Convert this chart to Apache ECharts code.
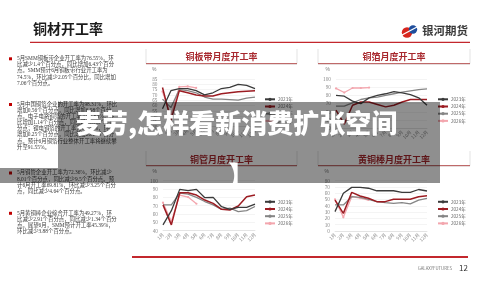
<!DOCTYPE html>
<html><head><meta charset="utf-8">
<script src="https://cdn.jsdelivr.net/npm/echarts@6/dist/echarts.min.js"></script>
<style>html,body{margin:0;padding:0;background:#fff}#c{width:500px;height:286px}</style>
</head><body><div id="c"></div>
<script>
// ---- data ----
const months = ['1月','2月','3月','4月','5月','6月','7月','8月','9月','10月','11月','12月'];
const years = ['2023年','2024年','2025年','2026年'];
// 铜板带
const strip2023 = [57, 74, 76, 76, 74, 70, 72, 76, 77, 80, 79, 76];
const strip2024 = [77, 46, 74, 72, 70, 69, 69, 71, 72, 73, 73.5, 74];
const strip2025 = [66, 58, 75, 74, 72, 68, 66, 66, 65.5, 65, 67, 68];
const strip2026 = [73, 50, 77.5, 77.95, 76.55];
// 铜箔
const foil2023 = [80, 79, 73, 70, 77, 80, 82, 84.5, 83, 81, 77, 68];
const foil2024 = [62, 45, 68, 72, 72, 69, 66, 68, 72, 75, 75, 75];
const foil2025 = [67, 67, 71, 75, 77, 78, 80, 82, 84, 85.5, 87, 88];
const foil2026 = [88.5, 83.5, 89, 89, 89.5];
// 铜管
const tube2023 = [47, 64, 89.6, 88, 89.6, 79.6, 80, 68.8, 65.6, 68, 68, 72];
const tube2024 = [71, 47, 85.6, 85.6, 82.8, 76.8, 72.8, 65.6, 64.8, 69.6, 80.8, 82.8];
const tube2025 = [71, 71, 85, 84, 80, 75, 71, 65.6, 67, 63, 64, 69];
const tube2026 = [73.6, 51, 82.8, 80.37, 72.36];
// 黄铜棒
const rod2023 = [30.8, 60, 69.4, 69.4, 68, 64, 64, 64, 61.5, 61.5, 66, 63.6];
const rod2024 = [49, 28, 61.5, 55.7, 52, 46.7, 46.7, 50.4, 50.4, 50.4, 54.6, 56];
const rod2025 = [41.4, 41.4, 54.6, 53.5, 50.4, 46.7, 45, 44, 45, 43, 49, 52];
const rod2026 = [50.4, 21.8, 54.6, 52.18, 49.27];
// axis ranges [min, max, interval]
const stripAxis = [40, 85, 5];
const foilAxis = [40, 100, 10];
const tubeAxis = [40, 100, 10];
const rodAxis = [0, 80, 10];
// titles / text
const pageTitle = '铜材开工率';
const logoText = '银河期货';
const panelTitles = ['铜板带月度开工率','铜箔月度开工率','铜管月度开工率','黄铜棒月度开工率'];
const bullets = [
 ['5月SMM铜板带企业开工率为76.55%，环','比减少1.4个百分点，同比增加6.43个百分','点。SMM预计6月铜板带行业开工率为','74.5%，环比减少2.05个百分比，同比增加','7.06个百分点。'],
 ['5月中国铜箔企业的开工率为98.31%，环比','增加0.56个百分点，同比增加6.98个百分','点。电子电路铜箔的开工率为97.63%，环','比增加1.14个百分点，同比增加3.65个百','分点；锂电铜箔的开工率为99.26%，环比','增加0.25个百分点，同比增加20.29个百分','点。预计6月铜箔行业整体开工率将继续攀','升至91.55%。'],
 ['5月铜管企业开工率为72.36%，环比减少','8.01个百分点，同比减少9.5个百分点。预','计6月开工率69.81%，环比减少3.25个百分','点，同比减少4.64个百分点。'],
 ['5月黄铜棒企业综合开工率为49.27%，环','比减少2.91个百分点，同比减少1.34个百分','点。展望6月，SMM预计开工率45.39%，','环比减少3.88个百分点。']
];
const overlayTitle = '麦劳,怎样看新消费扩张空间';
const overlayBracket = '】';
const footerText = 'GALAXYFUTURES';
const pageNo = '12';

// ---- build ----
const CJK = '"Noto Sans CJK SC", sans-serif';
const colors = ['#3b3b3b', '#9c1c22', '#858585', '#f3a6ae'];
const panels = [
  {data:[strip2023,strip2024,strip2025,strip2026], axis:stripAxis, grid:{left:162.5, top:79, width:92.5, height:47.7}, legend:{left:264, top:97}},
  {data:[foil2023,foil2024,foil2025,foil2026], axis:foilAxis, grid:{left:336, top:79, width:91, height:49.2}, legend:{left:437, top:97}},
  {data:[tube2023,tube2024,tube2025,tube2026], axis:tubeAxis, grid:{left:163, top:180.7, width:92, height:50}, legend:{left:264, top:199.5}},
  {data:[rod2023,rod2024,rod2025,rod2026], axis:rodAxis, grid:{left:335, top:180.7, width:92, height:50.3}, legend:{left:437, top:199.5}}
];

const grid=[], xAxis=[], yAxis=[], series=[], legend=[];
panels.forEach((p, gi) => {
  grid.push(Object.assign({containLabel:false}, p.grid));
  xAxis.push({type:'category', gridIndex:gi, data:months, boundaryGap:false,
    axisLine:{lineStyle:{color:'#d9d9d9', width:0.6}}, axisTick:{show:false},
    axisLabel:{interval:0, rotate:45, fontSize:4.6, color:'#8a8a8a', margin:3, fontFamily:CJK}});
  yAxis.push({type:'value', gridIndex:gi, min:p.axis[0], max:p.axis[1], interval:p.axis[2],
    name:'%', nameGap:7, nameTextStyle:{fontSize:5, color:'#777', align:'right', padding:[0,6,0,0]},
    axisLine:{show:false}, axisTick:{show:false},
    axisLabel:{fontSize:4.8, color:'#8a8a8a', margin:5, fontFamily:CJK},
    splitLine:{lineStyle:{color:'#ececec', width:0.6}}});
  p.data.forEach((arr, si) => {
    const isNew = si === 3;
    series.push({type:'line', name:years[si], xAxisIndex:gi, yAxisIndex:gi, data:arr,
      symbol: isNew ? 'circle' : 'none', symbolSize:2.2, showSymbol:isNew,
      lineStyle:{color:colors[si], width: si===1 ? 1.5 : 1.3},
      itemStyle:{color:colors[si]}, z: 10 - si});
  });
  legend.push({data:years, orient:'vertical', left:p.legend.left, top:p.legend.top, padding:0,
    itemWidth:10, itemHeight:4, itemGap:2.6, selectedMode:false,
    textStyle:{fontSize:4.6, color:'#666', fontFamily:CJK, padding:[0,0,0,-2]}});
});

const g = [];
// page title and rule
g.push({type:'text', x:33, y:28.5, style:{text:pageTitle, fill:'#1c1c1c', fontSize:14, fontWeight:'bold', fontFamily:CJK, textVerticalAlign:'middle'}});
g.push({type:'line', shape:{x1:30, y1:42.3, x2:470, y2:42.3}, style:{stroke:'#c3272d', lineWidth:1.2}});
// logo
g.push({type:'circle', shape:{cx:407, cy:32.5, r:5.2}, style:{fill:'#d7261e'}});
g.push({type:'circle', shape:{cx:413, cy:29.5, r:4.2}, style:{fill:'#1f4e9c'}});
g.push({type:'line', shape:{x1:402, y1:35, x2:417, y2:27}, style:{stroke:'#fff', lineWidth:1.2}});
g.push({type:'text', x:422, y:30.5, style:{text:logoText, fill:'#3a3a3a', fontSize:11.5, fontWeight:'bold', fontFamily:CJK, textVerticalAlign:'middle'}});
// left bullets
const bulletStarts = [58.8, 104.5, 173, 213.3];
const lineStep = 6.1;
bullets.forEach((lines, bi) => {
  g.push({type:'rect', shape:{x:9, y:bulletStarts[bi]-1.5, width:3, height:3}, style:{fill:'#c00000'}});
  lines.forEach((t, li) => {
    g.push({type:'text', x:17, y:bulletStarts[bi] + li*lineStep, style:{text:t, fill:'#3a3a3a', fontSize:5.4,
      fontFamily:'"Liberation Serif", "Noto Sans CJK SC", serif', textVerticalAlign:'middle'}});
  });
});
// panel header boxes
const boxes = [[146, 297, 49, 63.5, 57], [318, 470, 49, 63.5, 57], [146, 297, 151, 165.5, 159.5], [318, 470, 151, 165.5, 159.5]];
boxes.forEach((b, i) => {
  g.push({type:'line', shape:{x1:b[0], y1:b[2], x2:b[0], y2:b[3]}, style:{stroke:'#dcdcdc', lineWidth:0.8}});
  g.push({type:'line', shape:{x1:b[1], y1:b[2], x2:b[1], y2:b[3]}, style:{stroke:'#dcdcdc', lineWidth:0.8}});
  g.push({type:'line', shape:{x1:b[0], y1:b[3]+0.8, x2:b[1], y2:b[3]+0.8}, style:{stroke:'#d8c8c8', lineWidth:0.8}});
  g.push({type:'line', shape:{x1:b[0], y1:b[3], x2:b[1], y2:b[3]}, style:{stroke:'#b04545', lineWidth:0.8}});
  g.push({type:'text', x:(b[0]+b[1])/2, y:b[4], style:{text:panelTitles[i], fill:'#a8282e', fontSize:9, fontWeight:'bold', fontFamily:CJK, textAlign:'center', textVerticalAlign:'middle'}});
});
// footer
g.push({type:'line', shape:{x1:132, y1:257, x2:468, y2:257}, style:{stroke:'#c3272d', lineWidth:2}});
g.push({type:'text', x:452, y:268.3, style:{text:footerText, fill:'#777', fontSize:4.3, fontFamily:CJK, textAlign:'right', textVerticalAlign:'middle'}});
g.push({type:'text', x:468, y:268.3, style:{text:pageNo, fill:'#333', fontSize:8, fontFamily:CJK, textAlign:'right', textVerticalAlign:'middle'}});
// overlay
g.push({type:'rect', z:100, shape:{x:58, y:102, width:382, height:81}, style:{fill:'rgba(0,0,0,0.44)'}});
g.push({type:'rect', z:100, shape:{x:0, y:168, width:58, height:15}, style:{fill:'rgba(0,0,0,0.44)'}});
g.push({type:'text', z:101, x:76, y:123, style:{text:overlayTitle, fill:'#fff', fontSize:26, fontWeight:900, fontFamily:CJK, textVerticalAlign:'middle'}});
g.push({type:'text', z:101, x:228, y:176, style:{text:overlayBracket, fill:'#fff', fontSize:28, fontWeight:900, fontFamily:CJK, textVerticalAlign:'middle'}});

const chart = echarts.init(document.getElementById('c'), null, {renderer:'canvas'});
chart.setOption({animation:false, backgroundColor:'#fff', grid, xAxis, yAxis, series, legend, graphic:{elements:g}});
</script></body></html>
